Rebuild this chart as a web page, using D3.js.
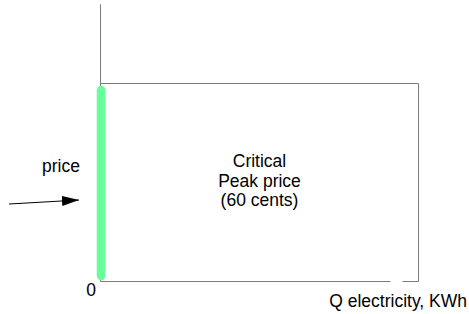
<!DOCTYPE html>
<html>
<head>
<meta charset="utf-8">
<script src="https://cdn.jsdelivr.net/npm/d3@7"></script>
<style>
  body { margin: 0; background: #fff; }
  text { font-family: "Liberation Sans", Arial, sans-serif; font-size: 17.5px; fill: #000; }
</style>
</head>
<body>
<svg id="chart" width="469" height="314"></svg>
<script>
// price in cents, quantity in arbitrary units
const priceLevels = [0, 60];
const axisTopPrice = 84;
const quantityMax = 100;
const bottomGap = [91.2, 95];
const boxLabel = ['Critical', 'Peak price', '(60 cents)'];
const axisLabels = { y: 'price', x: 'Q electricity, KWh', origin: '0' };

const svg = d3.select('#chart');
const x = d3.scaleLinear().domain([0, quantityMax]).range([100.5, 418.5]);
const y = d3.scaleLinear().domain([0, 60]).range([281.5, 83.5]);

const grey = '#7a7a7a';

// vertical axis
svg.append('line')
    .attr('x1', x(0)).attr('x2', x(0))
    .attr('y1', y(axisTopPrice)).attr('y2', y(0))
    .attr('stroke', grey);

// critical peak price box: top and right side
svg.append('path')
    .attr('d', d3.line()([[x(0), y(60)], [x(quantityMax), y(60)], [x(quantityMax), y(0)]]))
    .attr('fill', 'none')
    .attr('stroke', grey);

// bottom line with a small gap
svg.selectAll('line.bottom')
    .data([[0, bottomGap[0]], [bottomGap[1], quantityMax]])
    .enter().append('line')
    .attr('class', 'bottom')
    .attr('x1', d => x(d[0])).attr('x2', d => x(d[1]))
    .attr('y1', y(0)).attr('y2', y(0))
    .attr('stroke', grey);

// green price bar
svg.append('line')
    .attr('x1', x(0) + 0.5).attr('x2', x(0) + 0.5)
    .attr('y1', y(priceLevels[1]) + 6.5).attr('y2', y(priceLevels[0]) - 5.5)
    .attr('stroke', '#66ff99')
    .attr('stroke-width', 8.5)
    .attr('stroke-linecap', 'round');

// box label
svg.append('text')
    .attr('text-anchor', 'middle')
    .selectAll('tspan')
    .data(boxLabel)
    .enter().append('tspan')
    .attr('x', 259.5)
    .attr('y', (d, i) => 167 + i * 19.5)
    .text(d => d);

svg.append('text').attr('x', 80).attr('y', 172).attr('text-anchor', 'end').text(axisLabels.y);
svg.append('text').attr('x', 96).attr('y', 296).attr('text-anchor', 'end').text(axisLabels.origin);
svg.append('text').attr('x', 467).attr('y', 307).attr('text-anchor', 'end').text(axisLabels.x);

// arrow pointing to the price bar
svg.append('defs').append('marker')
    .attr('id', 'head')
    .attr('viewBox', '0 0 17 10')
    .attr('refX', 17).attr('refY', 5)
    .attr('markerWidth', 17).attr('markerHeight', 10)
    .attr('markerUnits', 'userSpaceOnUse')
    .attr('orient', 'auto')
    .append('path').attr('d', 'M0,0L17,5L0,10Z').attr('fill', '#000');

svg.append('line')
    .attr('x1', 9).attr('y1', 204)
    .attr('x2', 79).attr('y2', 200)
    .attr('stroke', '#000')
    .attr('stroke-width', 1)
    .attr('marker-end', 'url(#head)');
</script>
</body>
</html>
